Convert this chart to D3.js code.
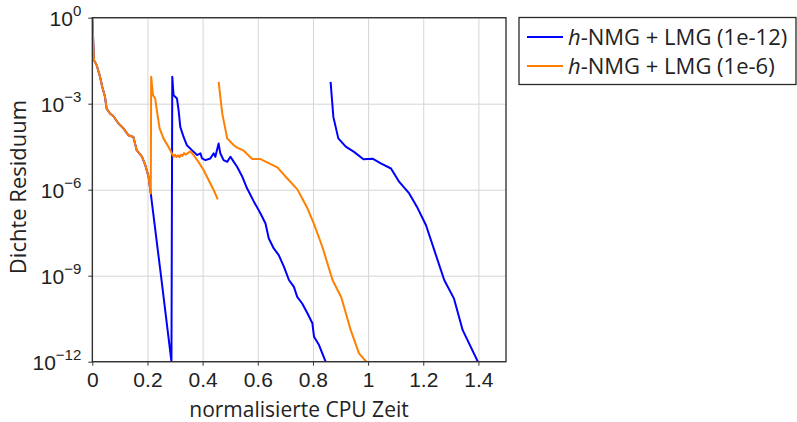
<!DOCTYPE html>
<html>
<head>
<meta charset="utf-8">
<script src="https://cdn.jsdelivr.net/npm/d3@7"></script>
<style>
  body { margin: 0; background: #fff; }
  svg { font-family: "Open Sans", "Noto Sans", sans-serif; }
</style>
</head>
<body>
<div id="chart"></div>
<script>
// residual values are stored as log10 exponents (log scale chart)
var timeBlue1 = [0, 0.006, 0.016, 0.028, 0.036, 0.046, 0.052, 0.064, 0.076, 0.095, 0.113, 0.131, 0.149, 0.161, 0.180, 0.192, 0.204, 0.212,
  0.249, 0.287, 0.290, 0.2945, 0.307, 0.313, 0.319, 0.331, 0.343, 0.361, 0.380, 0.392, 0.398, 0.410, 0.428, 0.440, 0.446, 0.458, 0.464,
  0.476, 0.489, 0.501, 0.513, 0.525, 0.543, 0.561, 0.585, 0.610, 0.628, 0.640, 0.658, 0.676, 0.695, 0.713, 0.731, 0.743, 0.761, 0.780,
  0.798, 0.804, 0.822, 0.846];
var resBlue1 = [0, -1.48, -1.66, -2.06, -2.41, -2.76, -3.17, -3.34, -3.43, -3.69, -3.86, -4.10, -4.16, -4.62, -4.85, -5.14, -5.55, -6.13,
  -9.0, -12.0, -2.06, -2.70, -2.82, -3.23, -3.81, -4.16, -4.45, -4.62, -4.79, -4.73, -4.91, -4.97, -4.91, -4.73, -4.85, -4.39, -4.73,
  -4.97, -5.03, -4.85, -5.03, -5.20, -5.53, -5.95, -6.40, -6.83, -7.18, -7.70, -8.05, -8.28, -8.69, -9.15, -9.39, -9.74, -9.97, -10.31,
  -10.66, -11.13, -11.42, -12.0];

var timeBlue2 = [0.864, 0.874, 0.892, 0.919, 0.949, 0.983, 1.016, 1.046, 1.083, 1.113, 1.149, 1.180, 1.210, 1.240, 1.276, 1.311, 1.343, 1.398];
var resBlue2 = [-2.24, -3.46, -4.21, -4.50, -4.68, -4.94, -4.92, -5.08, -5.26, -5.73, -6.13, -6.65, -7.24, -8.11, -9.15, -9.79, -10.90, -12.0];

var timeOrange1 = [0, 0.006, 0.016, 0.028, 0.036, 0.046, 0.052, 0.064, 0.076, 0.095, 0.113, 0.131, 0.149, 0.161, 0.180, 0.192, 0.204, 0.212,
  0.2135, 0.220, 0.228, 0.234, 0.244, 0.258, 0.276, 0.295, 0.300, 0.305, 0.311, 0.316, 0.321, 0.327, 0.333, 0.338, 0.344, 0.350, 0.355,
  0.361, 0.367, 0.385, 0.404, 0.422, 0.440, 0.455];
var resOrange1 = [0, -1.48, -1.66, -2.06, -2.41, -2.76, -3.17, -3.34, -3.43, -3.69, -3.86, -4.10, -4.16, -4.62, -4.85, -5.14, -5.55, -6.13,
  -2.06, -2.70, -2.82, -3.23, -3.86, -4.21, -4.50, -4.85, -4.78, -4.86, -4.80, -4.87, -4.78, -4.82, -4.72, -4.78, -4.74, -4.70, -4.66,
  -4.72, -4.79, -5.03, -5.32, -5.67, -6.01, -6.34];

var timeOrange2 = [0.458, 0.471, 0.489, 0.513, 0.525, 0.549, 0.580, 0.610, 0.671, 0.707, 0.743, 0.755, 0.780, 0.804, 0.834, 0.871, 0.903,
  0.937, 0.967, 0.995];
var resOrange2 = [-2.24, -3.33, -4.21, -4.45, -4.53, -4.64, -4.93, -4.93, -5.22, -5.61, -5.98, -6.19, -6.65, -7.20, -7.99, -9.15, -9.76,
  -10.90, -11.71, -12.02];

var xTicks = [0, 0.2, 0.4, 0.6, 0.8, 1, 1.2, 1.4];
var yTickExp = [0, -3, -6, -9, -12];
var legendLabels = ['(1e-12)', '(1e-6)'];
var colors = ['#0000ff', '#ff8000'];

var width = 797, height = 422;
var plotL = 92.3, plotT = 17.7, plotR = 506, plotB = 361.7;
var fontSize = '21px';

var svg = d3.select('#chart')
  .append('svg')
  .attr('width', width)
  .attr('height', height);

var x = d3.scaleLinear()
  .domain([0, 1.5])
  .range([plotL, plotR]);
var y = d3.scaleLog()
  .domain([1e-12, 1])
  .range([plotB, plotT]);

// grid
svg.append('g')
  .attr('transform', 'translate(0,' + plotB + ')')
  .call(d3.axisBottom(x).tickValues(xTicks).tickSize(-(plotB - plotT)).tickFormat(''))
  .call(g => g.select('.domain').remove())
  .selectAll('line')
  .attr('stroke', '#d6d6d6')
  .attr('stroke-width', 1);

svg.append('g')
  .attr('transform', 'translate(' + plotL + ',0)')
  .call(d3.axisLeft(y).tickValues(yTickExp.map(e => Math.pow(10, e))).tickSize(-(plotR - plotL)).tickFormat(''))
  .call(g => g.select('.domain').remove())
  .selectAll('line')
  .attr('stroke', '#d6d6d6')
  .attr('stroke-width', 1);

// lines
svg.append('clipPath')
  .attr('id', 'clip')
  .append('rect')
  .attr('x', plotL)
  .attr('y', plotT)
  .attr('width', plotR - plotL)
  .attr('height', plotB - plotT);

var line = d3.line()
  .x(d => x(d[0]))
  .y(d => y(Math.pow(10, d[1])));

function drawRun(times, res, color) {
  svg.append('path')
    .datum(d3.zip(times, res))
    .attr('clip-path', 'url(#clip)')
    .attr('fill', 'none')
    .attr('stroke', color)
    .attr('stroke-width', 2)
    .attr('stroke-linejoin', 'round')
    .attr('d', line);
}

drawRun(timeBlue1, resBlue1, colors[0]);
drawRun(timeBlue2, resBlue2, colors[0]);
drawRun(timeOrange1, resOrange1, colors[1]);
drawRun(timeOrange2, resOrange2, colors[1]);

// box
svg.append('rect')
  .attr('x', plotL)
  .attr('y', plotT)
  .attr('width', plotR - plotL)
  .attr('height', plotB - plotT)
  .attr('fill', 'none')
  .attr('stroke', '#2a2a2a')
  .attr('stroke-width', 1.3);

// axes
var xAxis = svg.append('g')
  .attr('transform', 'translate(0,' + plotB + ')')
  .call(d3.axisBottom(x).tickValues(xTicks).tickSize(4).tickSizeOuter(0).tickPadding(6)
    .tickFormat(d => String(d)));
xAxis.select('.domain').remove();
xAxis.selectAll('line').attr('stroke', '#333');
xAxis.selectAll('text')
  .attr('fill', '#222')
  .style('font-size', fontSize);

var yAxis = svg.append('g')
  .attr('transform', 'translate(' + plotL + ',0)')
  .call(d3.axisLeft(y).tickValues(yTickExp.map(e => Math.pow(10, e))).tickSize(4).tickSizeOuter(0).tickPadding(7));
yAxis.select('.domain').remove();
yAxis.selectAll('line').attr('stroke', '#333');
yAxis.selectAll('text')
  .attr('fill', '#222')
  .attr('dy', null)
  .attr('y', 7.5)
  .style('font-size', fontSize)
  .text(null)
  .each(function (d, i) {
    var t = d3.select(this);
    t.append('tspan').text('10');
    t.append('tspan')
      .attr('dy', '-9.5')
      .style('font-size', '15px')
      .text(yTickExp[i] === 0 ? '0' : '\u2212' + Math.abs(yTickExp[i]));
  });

// axis titles
svg.append('text')
  .attr('x', 299)
  .attr('y', 417)
  .attr('text-anchor', 'middle')
  .attr('fill', '#222')
  .style('font-size', fontSize)
  .text('normalisierte CPU Zeit');

svg.append('text')
  .attr('transform', 'translate(26,' + 187 + ') rotate(-90)')
  .attr('text-anchor', 'middle')
  .attr('fill', '#222')
  .style('font-size', '22px')
  .text('Dichte Residuum');

// legend
var legend = svg.append('g');
legend.append('rect')
  .attr('x', 519)
  .attr('y', 17.5)
  .attr('width', 277)
  .attr('height', 67)
  .attr('fill', '#fff')
  .attr('stroke', '#2a2a2a')
  .attr('stroke-width', 1.3);

legendLabels.forEach(function (lab, i) {
  var ly = 37 + i * 29;
  legend.append('line')
    .attr('x1', 527)
    .attr('x2', 563)
    .attr('y1', ly)
    .attr('y2', ly)
    .attr('stroke', colors[i])
    .attr('stroke-width', 2);
  var t = legend.append('text')
    .attr('x', 568)
    .attr('y', ly + 7.5)
    .attr('fill', '#222')
    .style('font-size', '22px');
  t.append('tspan').style('font-style', 'italic').text('h');
  t.append('tspan').text('-NMG + LMG ' + lab);
});
</script>
</body>
</html>
